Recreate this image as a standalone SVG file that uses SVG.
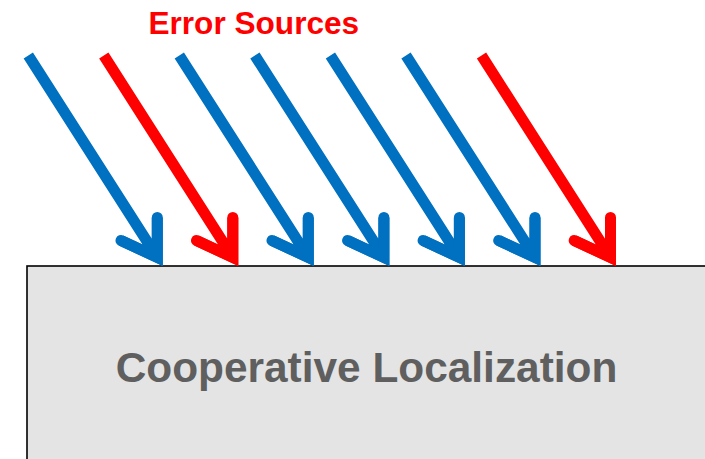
<svg xmlns="http://www.w3.org/2000/svg" xmlns:xlink="http://www.w3.org/1999/xlink" width="705" height="459" viewBox="0 0 705 459">
  <style>
    .box { fill: #E4E4E4; stroke: #000000; stroke-width: 1.6; }
    .label { font-family: "Liberation Sans", Arial, sans-serif; font-weight: bold; text-anchor: middle; }
    .title { fill: #FF0000; font-size: 31.6px; }
    .inner { fill: #5F5F5F; font-size: 42.4px; }
    .blue { stroke: #0070C0; }
    .red { stroke: #FF0000; }
  </style>
  <defs>
    <path id="arrow" d="M-134.5,-210.5 L-5.5,-8.6 M-5.5,-48.6 L-5.5,-8.6 L-41.8,-25.5" fill="none" stroke-width="11" stroke-linecap="butt" stroke-linejoin="miter"/>
    <path id="barbs" d="M-5.5,-48.6 L-5.5,-8.6 L-41.8,-25.5" fill="none" stroke-width="11" stroke-linecap="round" stroke-linejoin="miter" stroke-miterlimit="10"/>
  </defs>
  <g id="node-localization">
    <rect class="box" x="27" y="266" width="690" height="210"/>
    <text class="label inner" x="366.5" y="382">Cooperative Localization</text>
  </g>
  <g id="title">
    <text class="label title" x="253.8" y="34">Error Sources</text>
  </g>
  <g id="connectors">
    <g class="blue"><use xlink:href="#arrow" x="162.8" y="266"/><use xlink:href="#barbs" x="162.8" y="266"/></g>
    <g class="red"><use xlink:href="#arrow" x="238.3" y="266"/><use xlink:href="#barbs" x="238.3" y="266"/></g>
    <g class="blue"><use xlink:href="#arrow" x="313.8" y="266"/><use xlink:href="#barbs" x="313.8" y="266"/></g>
    <g class="blue"><use xlink:href="#arrow" x="389.4" y="266"/><use xlink:href="#barbs" x="389.4" y="266"/></g>
    <g class="blue"><use xlink:href="#arrow" x="464.9" y="266"/><use xlink:href="#barbs" x="464.9" y="266"/></g>
    <g class="blue"><use xlink:href="#arrow" x="540.5" y="266"/><use xlink:href="#barbs" x="540.5" y="266"/></g>
    <g class="red"><use xlink:href="#arrow" x="616" y="266"/><use xlink:href="#barbs" x="616" y="266"/></g>
  </g>
</svg>
